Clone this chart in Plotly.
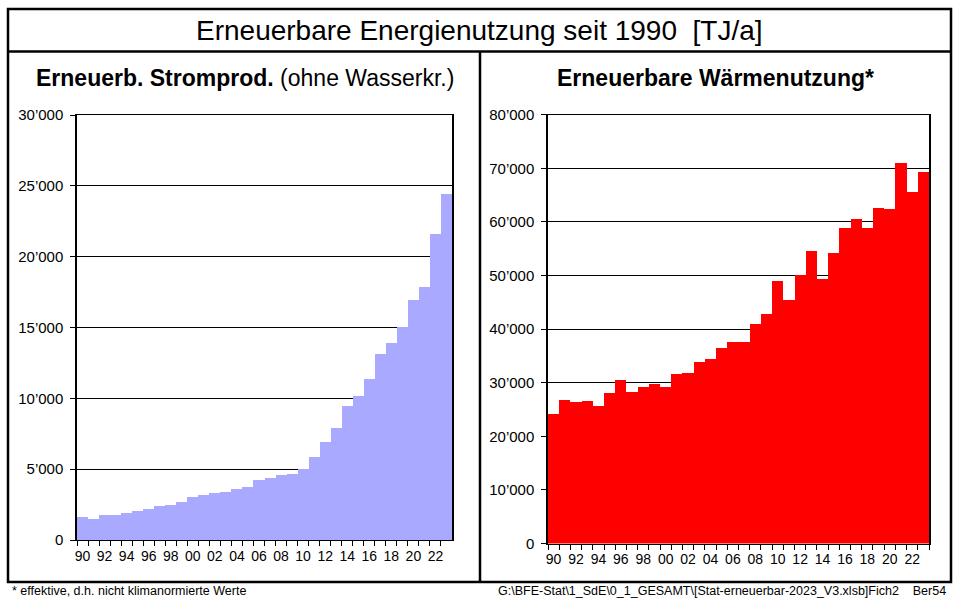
import plotly.graph_objects as go

W, H = 954, 601

years = ["1990", "1991", "1992", "1993", "1994", "1995", "1996", "1997", "1998", "1999",
         "2000", "2001", "2002", "2003", "2004", "2005", "2006", "2007", "2008", "2009",
         "2010", "2011", "2012", "2013", "2014", "2015", "2016", "2017", "2018", "2019",
         "2020", "2021", "2022", "2023"]
year_labels = ["90", "", "92", "", "94", "", "96", "", "98", "",
               "00", "", "02", "", "04", "", "06", "", "08", "",
               "10", "", "12", "", "14", "", "16", "", "18", "",
               "20", "", "22", ""]

strom = [1590, 1490, 1730, 1730, 1920, 2060, 2200, 2370, 2490, 2700,
         3010, 3180, 3290, 3410, 3580, 3740, 4220, 4380, 4570, 4690,
         5020, 5830, 6920, 7910, 9430, 10190, 11380, 13100, 13900, 15010,
         16910, 17850, 21600, 24420]
waerme = [24250, 26800, 26490, 26550, 25680, 28050, 30470, 28290, 29170, 29790,
          29290, 31720, 31900, 33960, 34520, 36440, 37730, 37600, 40950, 42950,
          49100, 45490, 50090, 54700, 49400, 54330, 58990, 60540, 58860, 62650,
          62530, 70990, 65640, 69310]

strom_ticks = [0, 5000, 10000, 15000, 20000, 25000, 30000]
strom_ticktext = ["0", "5’000", "10’000", "15’000", "20’000", "25’000", "30’000"]
waerme_ticks = [0, 10000, 20000, 30000, 40000, 50000, 60000, 70000, 80000]
waerme_ticktext = ["0", "10’000", "20’000", "30’000", "40’000", "50’000", "60’000", "70’000", "80’000"]

title = "Erneuerbare Energienutzung seit 1990  [TJ/a]"
sub_left = "<b>Erneuerb. Stromprod.</b> (ohne Wasserkr.)"
sub_right = "<b>Erneuerbare Wärmenutzung*</b>"
foot_left = "* effektive, d.h. nicht klimanormierte Werte"
foot_right = "G:\\BFE-Stat\\1_SdE\\0_1_GESAMT\\[Stat-erneuerbar-2023_V3.xlsb]Fich2&nbsp;&nbsp;&nbsp;&nbsp;Ber54"


def px(x):
    return x / W


def py(y):
    return 1 - y / H


FONT = "Liberation Sans, Arial, sans-serif"

fig = go.Figure()
fig.add_trace(go.Bar(x=years, y=strom, marker=dict(color="#A9A9FF", line=dict(width=0)),
                     xaxis="x", yaxis="y", showlegend=False))
fig.add_trace(go.Bar(x=years, y=waerme, marker=dict(color="#FF0000", line=dict(width=0)),
                     xaxis="x2", yaxis="y2", showlegend=False))

xcommon = dict(type="category", tickmode="array", tickvals=years, ticktext=year_labels,
               tickson="boundaries", ticks="outside", ticklen=5, tickcolor="black", tickwidth=1,
               showgrid=False, showline=True, linecolor="black", linewidth=1, mirror=True,
               tickfont=dict(family=FONT, size=14, color="black"), tickangle=0,
               ticklabelstandoff=3, automargin=False, fixedrange=True)
ycommon = dict(ticks="outside", ticklen=5, tickcolor="black", tickwidth=1,
               showgrid=True, gridcolor="black", gridwidth=1, zeroline=False,
               showline=True, linecolor="black", linewidth=1.5, mirror=True,
               tickfont=dict(family=FONT, size=15, color="black"), ticklabelstandoff=4,
               automargin=False, fixedrange=True)

fig.update_layout(
    template="none",
    width=W, height=H,
    autosize=False,
    margin=dict(l=0, r=0, t=0, b=0, pad=0, autoexpand=False),
    paper_bgcolor="white", plot_bgcolor="white",
    bargap=0,
    xaxis=dict(domain=[px(77), px(452)], anchor="y", **xcommon),
    yaxis=dict(domain=[py(540), py(115)], anchor="x", range=[0, 30000],
               tickvals=strom_ticks, ticktext=strom_ticktext, **ycommon),
    xaxis2=dict(domain=[px(548), px(929)], anchor="y2", **xcommon),
    yaxis2=dict(domain=[py(543.5), py(114.7)], anchor="x2", range=[0, 80000],
                tickvals=waerme_ticks, ticktext=waerme_ticktext, **ycommon),
    shapes=[
        dict(type="rect", xref="paper", yref="paper", x0=px(8), x1=px(951), y0=py(582), y1=py(9),
             line=dict(color="black", width=2.5)),
        dict(type="line", xref="paper", yref="paper", x0=px(8), x1=px(951), y0=py(51.5), y1=py(51.5),
             line=dict(color="black", width=2.5)),
        dict(type="line", xref="paper", yref="paper", x0=px(480), x1=px(480), y0=py(51.5), y1=py(582),
             line=dict(color="black", width=2.5)),
    ],
    annotations=[
        dict(text=title, xref="paper", yref="paper", x=px(479), y=py(31), showarrow=False,
             xanchor="center", yanchor="middle", font=dict(family=FONT, size=28, color="black")),
        dict(text=sub_left, xref="paper", yref="paper", x=px(245), y=py(78), showarrow=False,
             xanchor="center", yanchor="middle", font=dict(family=FONT, size=23, color="black")),
        dict(text=sub_right, xref="paper", yref="paper", x=px(715), y=py(78), showarrow=False,
             xanchor="center", yanchor="middle", font=dict(family=FONT, size=23, color="black")),
        dict(text=foot_left, xref="paper", yref="paper", x=px(10), y=py(591), showarrow=False,
             xanchor="left", yanchor="middle", font=dict(family=FONT, size=12.5, color="black")),
        dict(text=foot_right, xref="paper", yref="paper", x=px(948), y=py(591), showarrow=False,
             xanchor="right", yanchor="middle", font=dict(family=FONT, size=12.5, color="black")),
    ],
)

fig.write_html("out.html", config={"responsive": False, "displayModeBar": False},
               post_script="document.body.style.margin='0';document.body.style.padding='0';")
